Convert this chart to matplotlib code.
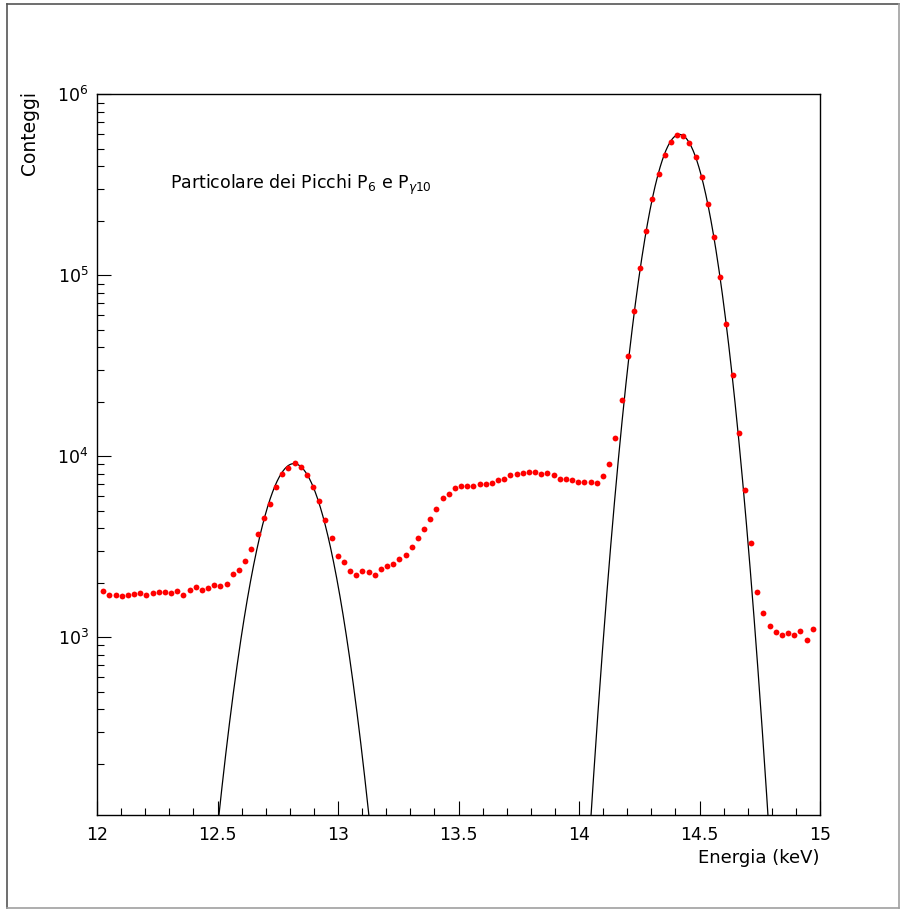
import matplotlib
matplotlib.use("Agg")
import matplotlib.pyplot as plt
import numpy as np
from matplotlib.lines import Line2D
from matplotlib.ticker import LogLocator, MultipleLocator

# bin centres (keV) of the spectrum, 116 channels
energia = np.linspace(12.026, 14.970, 116)

conteggi = [
    1809, 1713, 1720, 1685, 1713, 1729, 1751, 1720, 1764, 1786,
    1786, 1757, 1803, 1720, 1826, 1889, 1832, 1879, 1938, 1913,
    1963, 2229, 2364, 2630, 3064, 3708, 4580, 5429, 6741, 7983,
    8650, 9183, 8760, 7912, 6792, 5640, 4448, 3537, 2824, 2606,
    2316, 2209, 2316, 2286, 2209, 2370, 2468, 2541, 2708, 2849,
    3167, 3524, 3981, 4486, 5114, 5861, 6167, 6707, 6881, 6854,
    6828, 7003, 6990, 7146, 7350, 7511, 7852, 7954, 8085, 8190,
    8158, 7983, 8055, 7852, 7492, 7520, 7369, 7184, 7239, 7239,
    7146, 7753, 9068, 12620, 20390, 35680, 63510, 109700, 175700, 263900,
    364100, 463800, 547200, 593500, 590500, 536200, 450400, 347800, 248700, 162100,
    97500, 54040, 28130, 13500, 6540, 3332, 1780, 1368, 1150, 1066,
    1034, 1060, 1030, 1079, 962, 1116,
]

# gaussian fit parameters: (amplitude, mean keV, sigma keV)
fit_p6 = (9100, 12.817, 0.104)
fit_g10 = (6.0e5, 14.417, 0.0882)

def gaus(x, p):
    a, m, s = p
    return a * np.exp(-0.5 * ((x - m) / s) ** 2)

fig = plt.figure(figsize=(9, 9.09), dpi=100)
ax = fig.add_axes([97/900, 1 - 815/909, (820-97)/900, (815-94.3)/909])

ax.set_yscale("log")
ax.set_xlim(12, 15)
ax.set_ylim(104, 1e6)

t1 = np.linspace(12.3, 13.35, 400)
t2 = np.linspace(13.9, 14.95, 400)
ax.plot(t1, gaus(t1, fit_p6), color="black", lw=0.9)
ax.plot(t2, gaus(t2, fit_g10), color="black", lw=0.9)
ax.plot(energia, conteggi, "o", color="red", ms=4.2, mec="none")

ax.xaxis.set_major_locator(MultipleLocator(0.5))
ax.xaxis.set_minor_locator(MultipleLocator(0.1))
ax.xaxis.set_major_formatter(matplotlib.ticker.FuncFormatter(lambda v, p: f"{v:g}"))
ax.yaxis.set_major_locator(LogLocator(base=10, numticks=10))
ax.yaxis.set_minor_locator(LogLocator(base=10, subs=np.arange(2, 10), numticks=20))
ax.yaxis.set_minor_formatter(matplotlib.ticker.NullFormatter())

ax.tick_params(which="both", direction="in", top=False, right=False, labelsize=12.5)
ax.tick_params(which="major", length=10, width=0.8)
ax.tick_params(which="minor", length=5, width=0.8)
ax.tick_params(axis="x", pad=8)
ax.tick_params(axis="y", pad=6)
for s in ax.spines.values():
    s.set_linewidth(1.0)

ax.text(170/900, 1 - 185/909, r"Particolare dei Picchi P$_6$ e P$_{\gamma10}$",
        transform=fig.transFigure, fontsize=12.5, va="center", ha="left")
fig.text(820/900, 1 - 858/909, "Energia (keV)", fontsize=13, ha="right", va="center")
fig.text(30/900, 1 - 91/909, "Conteggi", fontsize=13.5, rotation=90, ha="center", va="top")

# canvas border
fig.add_artist(Line2D([6.5/900, 6.5/900], [1 - 907.5/909, 1 - 4/909], color="#555555", lw=1.2, transform=fig.transFigure))
fig.add_artist(Line2D([6.5/900, 899/900], [1 - 4/909, 1 - 4/909], color="#555555", lw=1.2, transform=fig.transFigure))
fig.add_artist(Line2D([6.5/900, 899/900], [1 - 907.5/909, 1 - 907.5/909], color="#a0a0a0", lw=1.2, transform=fig.transFigure))
fig.add_artist(Line2D([899/900, 899/900], [1 - 907.5/909, 1 - 4/909], color="#a0a0a0", lw=1.2, transform=fig.transFigure))

fig.savefig("out.png", dpi=100)
